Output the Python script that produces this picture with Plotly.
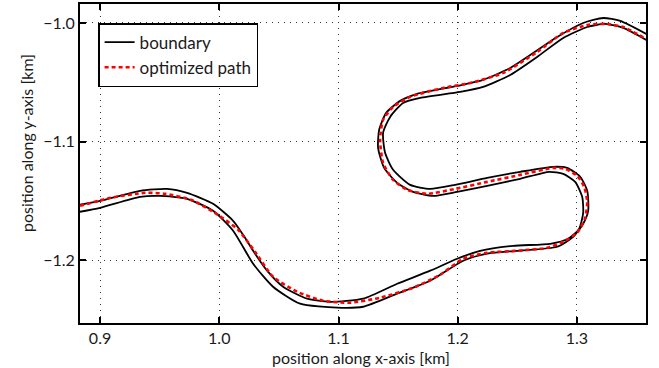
import plotly.graph_objects as go

# Boundary A (left side of the track, travelling left -> right)
bound_a_x = [0.8832, 0.9000, 0.9336, 0.9562, 0.9730, 0.9948, 1.0116, 1.0200, 1.0284, 1.0401,
             1.0535, 1.0737, 1.0930, 1.1207, 1.1492, 1.1769, 1.1995, 1.2188, 1.2465, 1.2776,
             1.2926, 1.3018, 1.3052, 1.3044, 1.2985, 1.2885, 1.2767, 1.2524, 1.2247, 1.1995,
             1.1794, 1.1626, 1.1492, 1.1383, 1.1332, 1.1341, 1.1400, 1.1517, 1.1660, 1.1995,
             1.2213, 1.2440, 1.2608, 1.2834, 1.3052, 1.3220, 1.3363, 1.3581]
bound_a_y = [-1.1533, -1.1500, -1.1415, -1.1399, -1.1432, -1.1525, -1.1668, -1.1786, -1.1921, -1.2089,
             -1.2224, -1.2325, -1.2351, -1.2325, -1.2199, -1.2089, -1.1988, -1.1921, -1.1879, -1.1862,
             -1.1820, -1.1736, -1.1601, -1.1466, -1.1340, -1.1272, -1.1255, -1.1314, -1.1373, -1.1424,
             -1.1458, -1.1424, -1.1348, -1.1222, -1.1053, -1.0901, -1.0758, -1.0657, -1.0598, -1.0531,
             -1.0480, -1.0379, -1.0270, -1.0118, -1.0000, -0.9958, -0.9983, -1.0093]

# Boundary B (right side of the track)
bound_b_x = [0.8832, 0.9000, 0.9336, 0.9503, 0.9730, 0.9948, 1.0116, 1.0284, 1.0451, 1.0678,
             1.0988, 1.1207, 1.1492, 1.1769, 1.2046, 1.2247, 1.2499, 1.2834, 1.2968, 1.3052,
             1.3094, 1.3086, 1.3027, 1.2918, 1.2801, 1.2524, 1.2247, 1.1978, 1.1769, 1.1601,
             1.1458, 1.1391, 1.1374, 1.1433, 1.1542, 1.1685, 1.2020, 1.2213, 1.2440, 1.2666,
             1.2885, 1.3086, 1.3237, 1.3388, 1.3581]
bound_b_y = [-1.1592, -1.1559, -1.1466, -1.1458, -1.1483, -1.1584, -1.1752, -1.2030, -1.2224, -1.2367,
             -1.2401, -1.2393, -1.2283, -1.2174, -1.2005, -1.1946, -1.1921, -1.1887, -1.1803, -1.1693,
             -1.1584, -1.1415, -1.1297, -1.1222, -1.1213, -1.1255, -1.1306, -1.1365, -1.1399, -1.1365,
             -1.1238, -1.1095, -1.0927, -1.0792, -1.0674, -1.0632, -1.0581, -1.0539, -1.0438, -1.0286,
             -1.0126, -1.0034, -1.0008, -1.0042, -1.0143]

# Optimized path
path_x = [0.8832, 0.9092, 0.9378, 0.9545, 0.9763, 0.9990, 1.0158, 1.0300, 1.0451, 1.0653,
          1.0871, 1.1098, 1.1349, 1.1626, 1.1853, 1.2046, 1.2247, 1.2499, 1.2750, 1.2885,
          1.3002, 1.3069, 1.3086, 1.3061, 1.3002, 1.2901, 1.2801, 1.2524, 1.2247, 1.1978,
          1.1743, 1.1576, 1.1458, 1.1374, 1.1349, 1.1374, 1.1458, 1.1601, 1.1878, 1.2104,
          1.2381, 1.2666, 1.2885, 1.3086, 1.3254, 1.3388, 1.3581]
path_y = [-1.1542, -1.1474, -1.1432, -1.1441, -1.1491, -1.1618, -1.1744, -1.1929, -1.2140, -1.2266,
          -1.2342, -1.2359, -1.2317, -1.2233, -1.2123, -1.1988, -1.1938, -1.1921, -1.1896, -1.1845,
          -1.1769, -1.1643, -1.1508, -1.1382, -1.1289, -1.1230, -1.1222, -1.1281, -1.1340, -1.1399,
          -1.1441, -1.1407, -1.1323, -1.1180, -1.0986, -1.0817, -1.0708, -1.0623, -1.0548, -1.0506,
          -1.0421, -1.0244, -1.0084, -1.0017, -1.0008, -1.0034, -1.0135]

x_ticks = [0.9, 1.0, 1.1, 1.2, 1.3]
y_ticks = [-1.2, -1.1, -1.0]
x_title = "position along x-axis [km]"
y_title = "position along y-axis [km]"

FONT = "Lato, 'Open Sans', sans-serif"
TXT = "#1a1a1a"

fig = go.Figure()
fig.add_trace(go.Scatter(x=bound_a_x, y=bound_a_y, mode="lines", name="boundary",
                         legendgroup="b", showlegend=True,
                         line=dict(color="black", width=1.8, shape="spline", smoothing=0.6)))
fig.add_trace(go.Scatter(x=bound_b_x, y=bound_b_y, mode="lines", name="boundary",
                         legendgroup="b", showlegend=False,
                         line=dict(color="black", width=1.8, shape="spline", smoothing=0.6)))
fig.add_trace(go.Scatter(x=path_x, y=path_y, mode="lines", name="optimized path",
                         line=dict(color="#ff0000", width=2.6, dash="4px,3px",
                                   shape="spline", smoothing=0.6)))

axis_common = dict(
    showline=True, linecolor="black", linewidth=2, mirror="ticks",
    ticks="inside", ticklen=6, tickwidth=1.5, tickcolor="black",
    showgrid=True, gridcolor="#333333", gridwidth=1, griddash="1px,5px",
    zeroline=False, tickformat=".1f", automargin=False,
    tickfont=dict(family=FONT, size=16, color=TXT),
)

fig.update_xaxes(range=[0.8832, 1.3579], tickvals=x_ticks, **axis_common)
fig.update_yaxes(range=[-1.253, -0.984], tickvals=y_ticks, **axis_common)

fig.add_annotation(text=x_title, xref="paper", yref="paper", x=0.4965, y=-0.108,
                   xanchor="center", yanchor="middle", showarrow=False,
                   font=dict(family=FONT, size=16, color=TXT))
fig.add_annotation(text=y_title, xref="paper", yref="paper", x=-0.0954, y=0.564,
                   xanchor="center", yanchor="middle", showarrow=False, textangle=-90,
                   font=dict(family=FONT, size=16, color=TXT))

fig.update_layout(
    width=659, height=368,
    margin=dict(l=80, r=13, t=4, b=45, autoexpand=False),
    plot_bgcolor="white", paper_bgcolor="white",
    legend=dict(x=0.032, y=0.94, xanchor="left", yanchor="top",
                bgcolor="white", bordercolor="black", borderwidth=1.5,
                font=dict(family=FONT, size=17, color=TXT),
                tracegroupgap=0, itemwidth=30),
    showlegend=True,
)

fig.write_html("out.html", config={"displayModeBar": False},
               post_script="document.body.style.margin='0';document.body.style.padding='0';")
